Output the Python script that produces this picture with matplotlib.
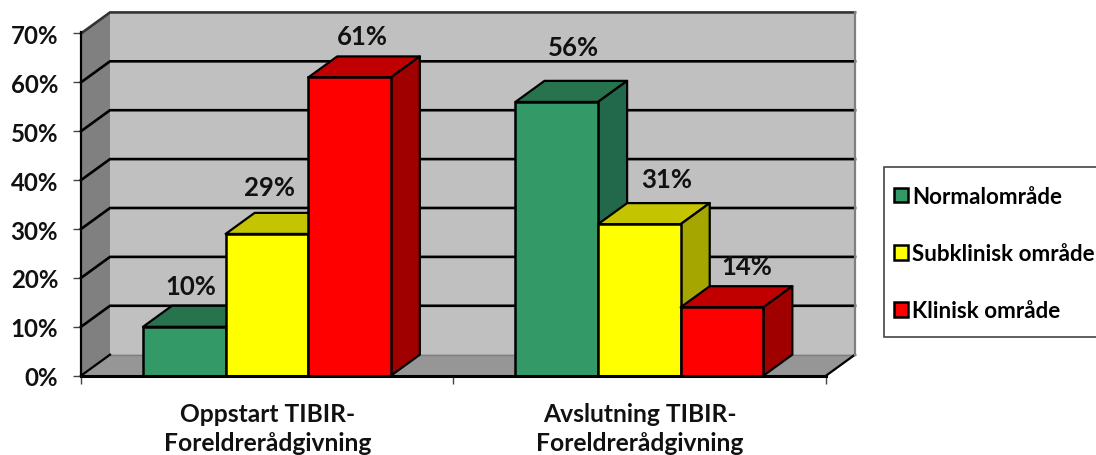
#!/usr/bin/env python3
# -*- coding: utf-8 -*-

import matplotlib
matplotlib.use("Agg")
import matplotlib.pyplot as plt
from matplotlib.patches import Patch, Polygon, Rectangle

groups = ["Oppstart TIBIR-\nForeldrerådgivning", "Avslutning TIBIR-\nForeldrerådgivning"]
series = ["Normalområde", "Subklinisk område", "Klinisk område"]
normal = [10, 56]
subklinisk = [29, 31]
klinisk = [61, 14]
yticks = [0, 10, 20, 30, 40, 50, 60, 70]

# front, top and side colour of each series
faces = ["#339966", "#FFFF00", "#FF0000"]
tops = ["#27734D", "#C4C400", "#C00000"]
sides = ["#22684A", "#A6A600", "#A00000"]

W, H = 1096, 456
DX = 29 / 372.5   # depth of the box in x units
DY = 21 / 4.88    # depth of the box in y units
BAR_W = 0.2218
GROUP_START = [0.1664, 1.1664]

# pixel nudges of the value labels, from the top middle of the front face
label_nudge = [[(6, 41), (17, 55)], [(3, 47), (27, 45)], [(13, 41), (25, 41)]]

plt.rcParams["font.family"] = ["Lato", "DejaVu Sans"]
plt.rcParams["font.weight"] = "bold"

fig = plt.figure(figsize=(W / 100, H / 100), dpi=100)
ax = fig.add_axes([81 / W, 1 - 376.7 / H, 745 / W, (376.7 - 33) / H])
ax.set_xlim(0, 2)
ax.set_ylim(0, 70.3)


def poly(pts, fc, z, ec="none", lw=0):
    ax.add_patch(Polygon(pts, closed=True, facecolor=fc, edgecolor=ec, linewidth=lw,
                         zorder=z, clip_on=False, joinstyle="round"))


# walls and floor
top = yticks[-1]
poly([(DX, DY), (2 + DX, DY), (2 + DX, top + DY), (DX, top + DY)], "#C0C0C0", 1)
poly([(0, 0), (DX, DY), (DX, top + DY), (0, top)], "#808080", 1)
poly([(0, 0), (2, 0), (2 + DX, DY), (DX, DY)], "#969696", 1)

# grid lines run along the back wall and down the left wall
for v in yticks[1:]:
    col = "#333333" if v == top else "black"
    ax.plot([0, DX, 2 + DX], [v, v + DY, v + DY], color=col, lw=1.9, zorder=2,
            clip_on=False, solid_joinstyle="miter")
ax.plot([DX, 2 + DX], [DY, DY], color="#808080", lw=1, zorder=2, clip_on=False)
ax.plot([0, DX], [0, DY], color="black", lw=1.6, zorder=2, clip_on=False)
ax.plot([2, 2 + DX], [0, DY], color="black", lw=1.6, zorder=2, clip_on=False)
ax.plot([2 + DX, 2 + DX], [DY, top + DY], color="#808080", lw=1.6, zorder=2, clip_on=False)

# bars, left to right so the next one hides the previous side face
z = 3
for g in range(len(groups)):
    for s, vals in enumerate([normal, subklinisk, klinisk]):
        x0 = GROUP_START[g] + s * BAR_W
        x1 = x0 + BAR_W
        v = vals[g]
        poly([(x0, v), (x1, v), (x1 + DX, v + DY), (x0 + DX, v + DY)], tops[s], z, "black", 1.6)
        poly([(x1, 0), (x1 + DX, DY), (x1 + DX, v + DY), (x1, v)], sides[s], z, "black", 1.6)
        ax.bar(x0, v, width=BAR_W, align="edge", color=faces[s], edgecolor="black",
               linewidth=1.8, zorder=z + 0.5, clip_on=False)
        z += 1

# value labels
for s, vals in enumerate([normal, subklinisk, klinisk]):
    for g, v in enumerate(vals):
        ax.annotate(f"{v}%", (GROUP_START[g] + (s + 0.5) * BAR_W, v),
                    xytext=label_nudge[s][g], textcoords="offset pixels",
                    ha="center", va="center", fontsize=18.5, color="#111111",
                    annotation_clip=False, zorder=50)

for name in ["top", "right"]:
    ax.spines[name].set_visible(False)
ax.spines["left"].set_linewidth(1.6)
ax.spines["bottom"].set_linewidth(2.2)
ax.spines["left"].set_zorder(40)
ax.spines["bottom"].set_zorder(40)

ax.set_yticks(yticks)
ax.set_yticklabels([f"{v}%" for v in yticks], fontsize=17.3, color="#111111")
ax.tick_params(axis="y", length=6, width=1, color="#444444", pad=10.5)
ax.set_xticks([0, 1, 2])
ax.set_xticklabels([])
ax.tick_params(axis="x", which="major", length=6, width=1, color="#444444")
ax.set_xticks([0.5, 1.5], minor=True)
ax.set_xticklabels(groups, minor=True, fontsize=17.7, color="#111111", linespacing=1.33)
ax.tick_params(axis="x", which="minor", length=0, pad=19)

# legend frame runs past the right edge of the figure
fig.add_artist(Rectangle((884 / W, 1 - 338 / H), 230 / W, 170 / H, transform=fig.transFigure,
                         facecolor="white", edgecolor="#444444", linewidth=1.2))
handles = [Patch(facecolor=c, edgecolor="black", linewidth=1.8) for c in faces]
leg = fig.legend(handles, series, loc="upper left",
                 bbox_to_anchor=(894 / W, 1 - 187 / H), fontsize=16.1,
                 frameon=False, handlelength=0.62, handleheight=0.62, handletextpad=0.2,
                 labelspacing=1.62, borderpad=0, borderaxespad=0, labelcolor="black")
leg.set_zorder(60)

fig.savefig("out.png", dpi=100)
